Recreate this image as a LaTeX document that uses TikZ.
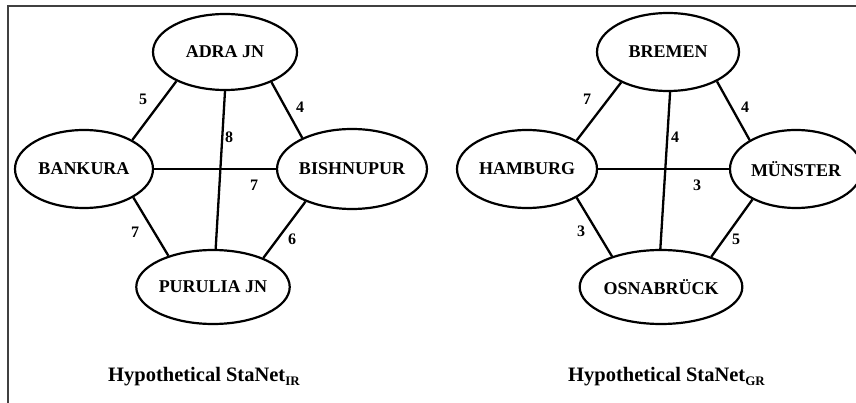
\documentclass[tikz,border=0pt]{standalone}
\usepackage{fontspec}
\setmainfont{Liberation Serif}
\usetikzlibrary{shapes.geometric}
\newcommand{\mysubs}[1]{\raisebox{-4pt}{\fontsize{13}{14}\selectfont #1}}
\begin{document}
\begin{tikzpicture}[x=1pt,y=-1pt,
  stn/.style={draw, ellipse, line width=2.2pt, inner sep=0pt, font=\fontsize{18}{20}\selectfont\bfseries},
  lnk/.style={line width=2.3pt},
  wt/.style={font=\fontsize{16}{18}\selectfont\bfseries, inner sep=0pt},
  captxt/.style={font=\fontsize{20.5}{24}\selectfont\bfseries, inner sep=0pt, anchor=base west},
  frame/.style={line width=1.3pt, draw=black!75}]
\useasboundingbox (0,0) rectangle (856,403);
\coordinate (fa) at (8,403);
\coordinate (fb) at (8,6);
\coordinate (fc) at (856,6);
\draw[frame] (fa) -- (fb) -- (fc);
% left network
\node[stn, minimum width=144, minimum height=76] (adra) at (225,52) {ADRA JN};
\node[stn, minimum width=138, minimum height=78] (bank) at (84,169) {BANKURA};
\node[stn, minimum width=136, minimum height=80] (bish) at (352,169) {BISHNUPUR};
\node[stn, minimum width=134, minimum height=74] (puru) at (213,287) {PURULIA JN};
\draw[lnk] (adra.211) -- (bank.31);
\draw[lnk] (adra.327) -- (bish.148);
\draw[lnk] (adra.270) -- (puru.86);
\draw[lnk] (bank.0) -- (bish.180);
\draw[lnk] (bank.330) -- (puru.145);
\draw[lnk] (bish.215) -- (puru.30);
\node[wt] (w1) at (143,99) {5};
\node[wt] (w2) at (300,107) {4};
\node[wt] (w3) at (229,137) {8};
\node[wt] (w4) at (254,185) {7};
\node[wt] (w5) at (135,232) {7};
\node[wt] (w6) at (292,239) {6};
\node[captxt] (capL) at (108,381) {Hypothetical StaNet\mysubs{IR}};
% right network
\node[stn, minimum width=142, minimum height=78] (brem) at (668,52) {BREMEN};
\node[stn, minimum width=140, minimum height=78] (hamb) at (527,169) {HAMBURG};
\node[stn, minimum width=132, minimum height=78] (muen) at (796,169) {MÜNSTER};
\node[stn, minimum width=140, minimum height=74] (osna) at (661,287) {OSNABRÜCK};
\draw[lnk] (brem.213) -- (hamb.30);
\draw[lnk] (brem.329) -- (muen.148);
\draw[lnk] (brem.273) -- (osna.91);
\draw[lnk] (hamb.0) -- (muen.180);
\draw[lnk] (hamb.330) -- (osna.148);
\draw[lnk] (muen.215) -- (osna.31);
\node[wt] (v1) at (587,99) {7};
\node[wt] (v2) at (745,107) {4};
\node[wt] (v3) at (675,137) {4};
\node[wt] (v4) at (697,185) {3};
\node[wt] (v5) at (581,231) {3};
\node[wt] (v6) at (736,239) {5};
\node[captxt] (capR) at (568,381) {Hypothetical StaNet\mysubs{GR}};
\end{tikzpicture}
\end{document}
